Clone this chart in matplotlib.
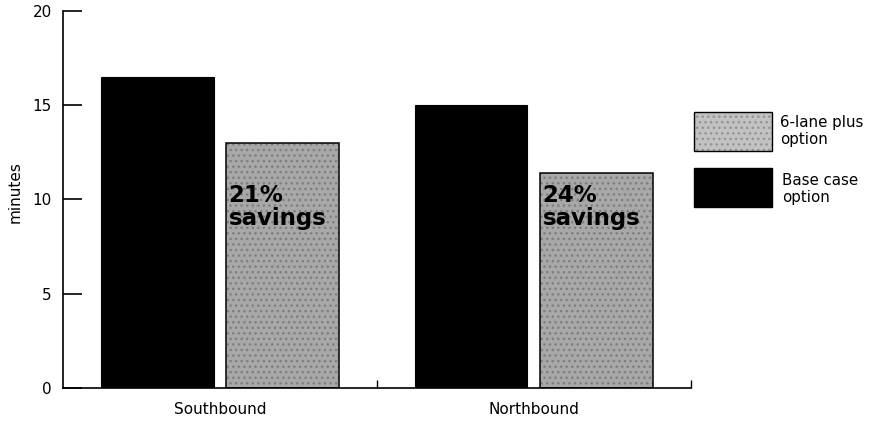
import numpy as np
import matplotlib
matplotlib.use("Agg")
import matplotlib.pyplot as plt
from matplotlib.patches import Rectangle

# Travel time by direction (minutes)
directions = ["Southbound", "Northbound"]
base_case = [16.5, 15.0]
six_lane = [13.0, 11.4]
savings = ["21%\nsavings", "24%\nsavings"]

fig = plt.figure(figsize=(8.81, 4.22), dpi=100)
ax = fig.add_axes([0.0715, 0.0806, 0.7125, 0.8934])

x = np.arange(len(directions))
w = 0.36
ax.bar(x - 0.2, base_case, w, color="black", edgecolor="black", linewidth=0.8)
# textured grey fill, then a black outline on top
ax.bar(x + 0.2, six_lane, w, color="#a8a8a8", edgecolor="#7e7e7e",
       linewidth=0, hatch="...")
ax.bar(x + 0.2, six_lane, w, fill=False, edgecolor="black", linewidth=1.1)

for xi, yi, txt in zip(x, six_lane, savings):
    ax.text(xi + 0.2 - w / 2 + 0.008, 10.8, txt, fontsize=16.5,
            fontweight="bold", va="top", ha="left", color="black",
            linespacing=1.0)

ax.set_xlim(-0.5, 1.5)
ax.set_ylim(0, 20)
ax.set_yticks([0, 5, 10, 15, 20])
ax.set_xticks(x)
ax.set_xticklabels(directions, fontsize=11)
ax.set_xticks([0.5, 1.5], minor=True)
ax.tick_params(axis="x", which="major", length=0, pad=10)
ax.tick_params(axis="x", which="minor", direction="in", length=6, width=1)
ax.tick_params(axis="y", direction="in", length=14, width=1.2,
               labelsize=11, pad=8)
ax.set_ylabel("minutes", fontsize=11)
ax.yaxis.set_label_coords(-0.065, 0.52)
for s in ["top", "right"]:
    ax.spines[s].set_visible(False)
ax.spines["left"].set_linewidth(1.2)
ax.spines["bottom"].set_linewidth(1.2)

# legend boxes
fig.patches.append(Rectangle((694 / 881, 1 - 151 / 422), 78 / 881, 39 / 422,
                             transform=fig.transFigure, facecolor="#c2c2c2",
                             edgecolor="#939393", linewidth=0, hatch="..."))
fig.patches.append(Rectangle((694 / 881, 1 - 151 / 422), 78 / 881, 39 / 422,
                             transform=fig.transFigure, fill=False,
                             edgecolor="black", linewidth=1.0))
fig.patches.append(Rectangle((694 / 881, 1 - 207 / 422), 78 / 881, 39 / 422,
                             transform=fig.transFigure, facecolor="black",
                             edgecolor="black"))
fig.text(780 / 881, 1 - 131 / 422, "6-lane plus\noption", fontsize=10.8,
         va="center", ha="left", linespacing=1.1)
fig.text(782 / 881, 1 - 189 / 422, "Base case\noption", fontsize=10.8,
         va="center", ha="left", linespacing=1.2)

fig.savefig("out.png", dpi=100)
